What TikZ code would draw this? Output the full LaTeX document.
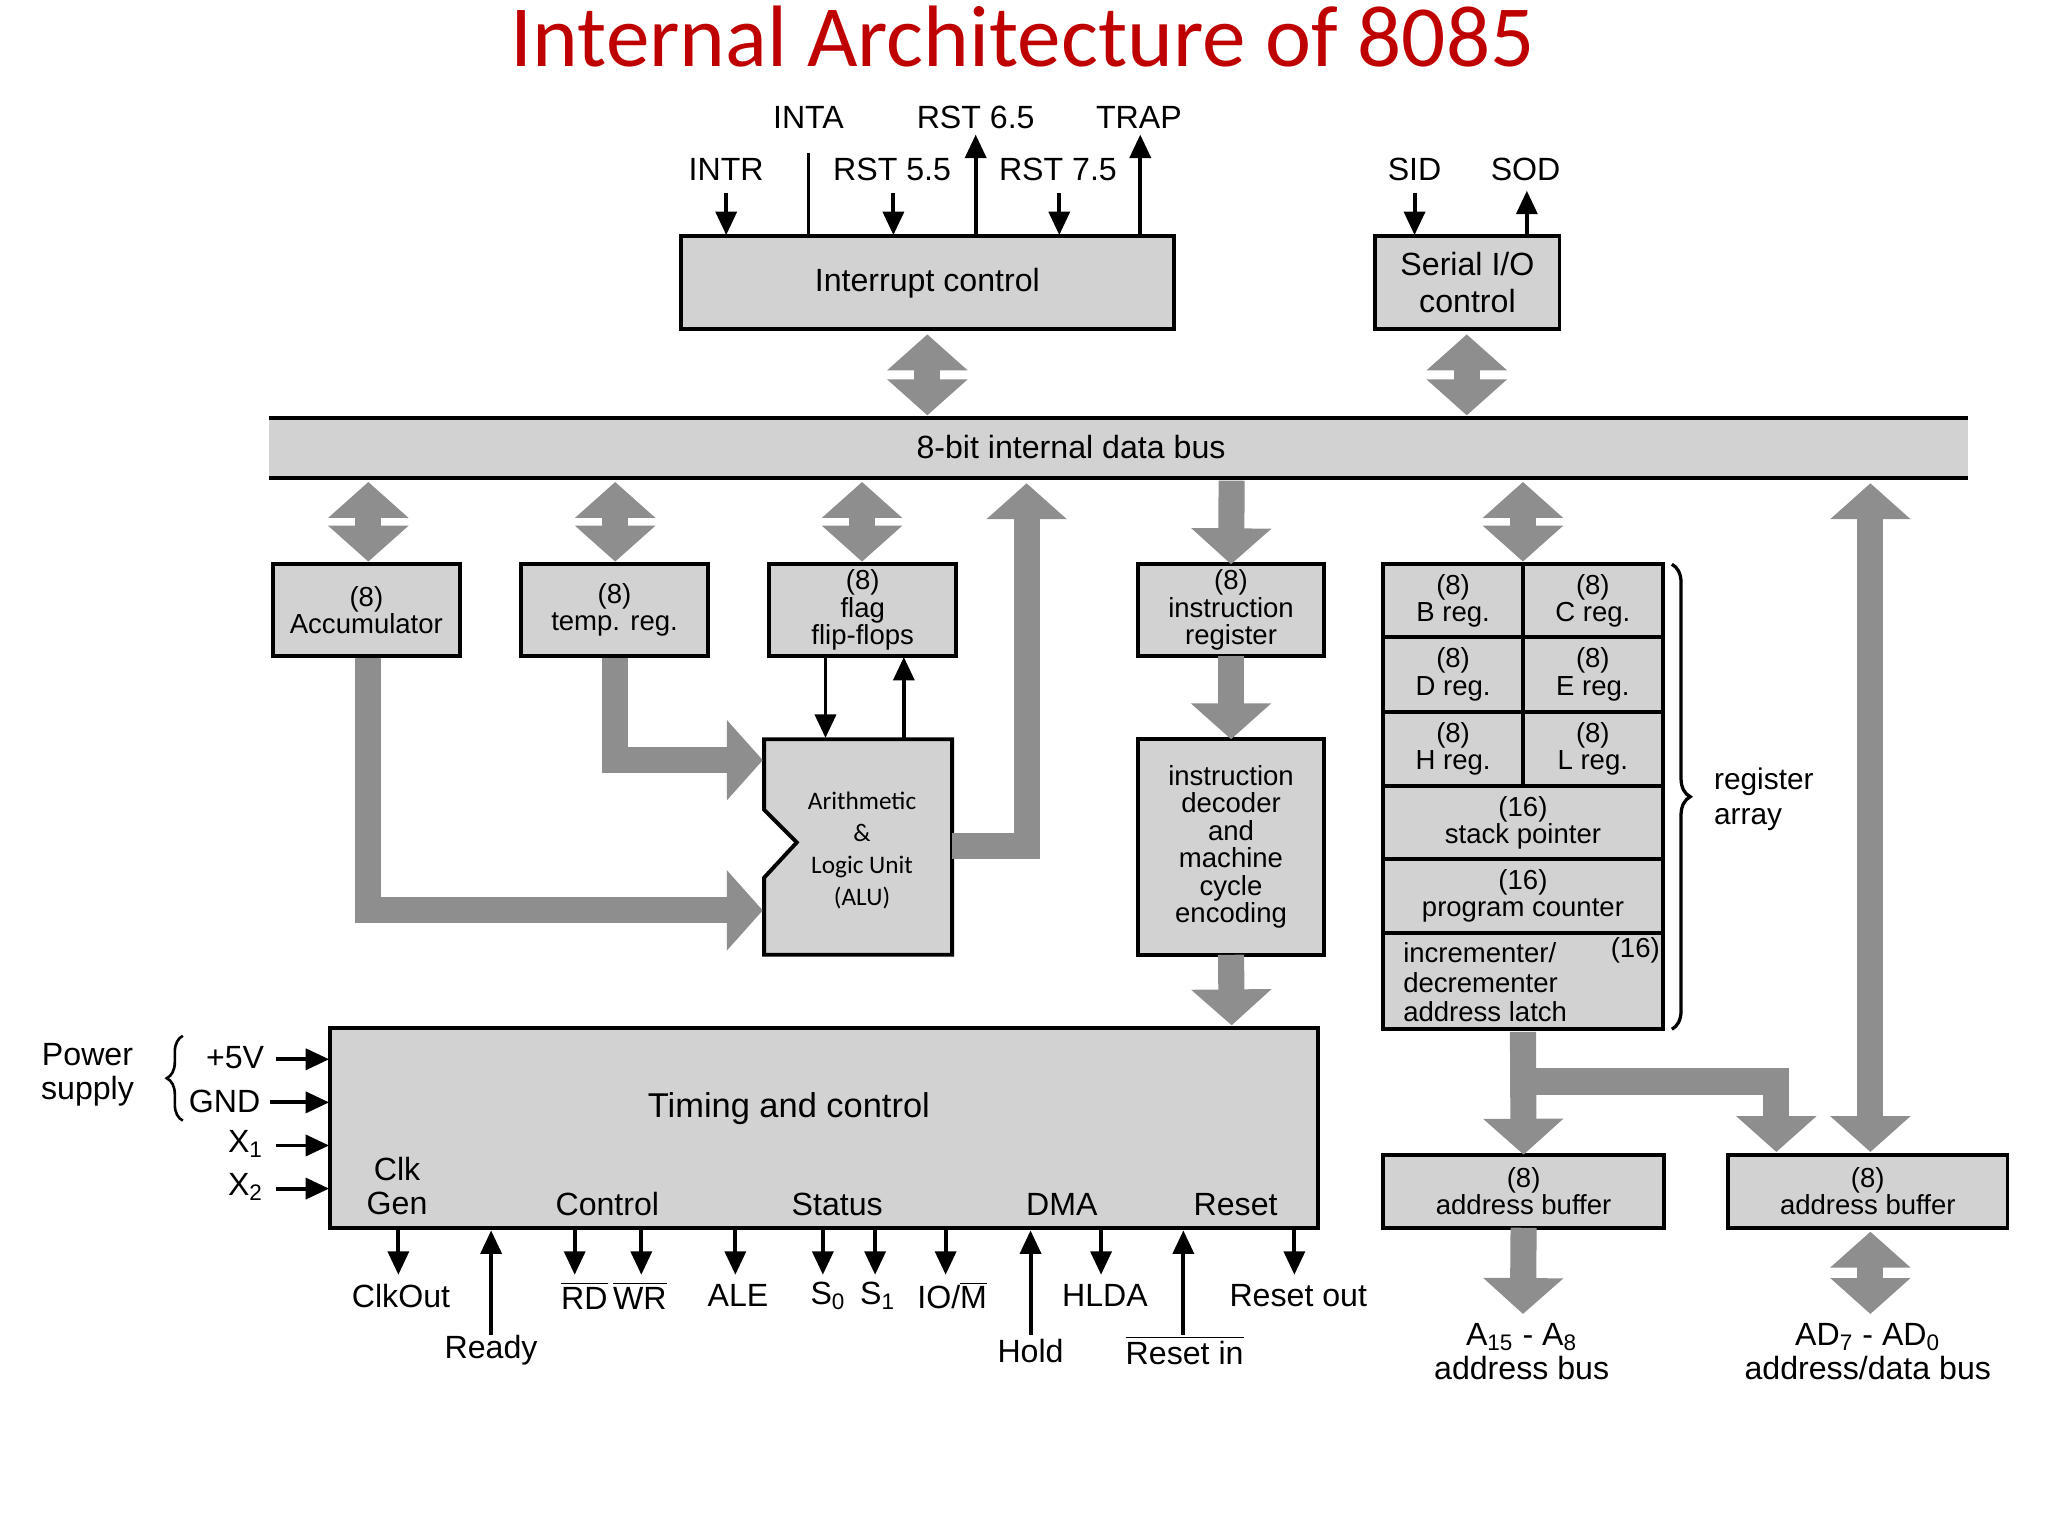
\documentclass[tikz,border=0pt]{standalone}
\usepackage{fontspec}
\setmainfont{Liberation Sans}
\newfontfamily\carl{Carlito}
\usetikzlibrary{arrows.meta,decorations.pathreplacing}
\definecolor{boxg}{HTML}{D2D2D2}
\definecolor{arrg}{HTML}{8E8E8E}
\newcommand\bx[6]{\node[box,minimum width={(#4-#2)*0.02cm},minimum height={(#5-#3)*0.02cm}] (#1) at ({(#2+#4)/2},{(#3+#5)/2}) {#6};}
\newcommand\ovl[1]{\ensuremath{\overline{\mbox{#1}}}}
\begin{document}
\begin{tikzpicture}[x=0.02cm,y=-0.02cm,
 box/.style={draw,fill=boxg,line width=0.06cm,inner sep=0pt,outer sep=0pt,align=center,font=\fontsize{12}{12}\selectfont},
 bigbox/.style={box,font=\fontsize{14}{16}\selectfont},
 fat/.style={draw=arrg,line width=0.4cm,line join=miter,-{Triangle[width=1.2cm,length=0.55cm]}},
 dfat/.style={draw=arrg,line width=0.4cm,{Triangle[width=1.2cm,length=0.55cm]}-{Triangle[width=1.2cm,length=0.55cm]}},
 thin/.style={draw,line width=0.06cm,-{Triangle[width=0.32cm,length=0.36cm]}},
 lab/.style={font=\fontsize{14}{15}\selectfont,align=center,inner sep=0pt},
 slab/.style={font=\fontsize{12}{13}\selectfont,align=center,inner sep=0pt}]
\useasboundingbox (0,0) rectangle (1568,1176);
\node[font=\carl\fontsize{38}{40}\selectfont,text=red!75!black] (title) at (783,28) {Internal Architecture of 8085};
% bus
\fill[boxg] (206,320) rectangle (1507,366);
\draw[line width=0.06cm] (206,320) -- (1507,320) (206,366) -- (1507,366);
\node[lab] (bus) at (820,342) {8-bit internal data bus};
% boxes
\node[bigbox,minimum width=7.56cm,minimum height=1.42cm] (ic) at (710,216.5) {Interrupt control};
\node[bigbox,minimum width=2.82cm,minimum height=1.42cm] (sio) at (1123.5,216.5) {Serial I/O\\control};
\bx{acc}{209}{432}{352}{502}{(8)\\Accumulator}
\bx{tmp}{399}{432}{542}{502}{(8)\\temp. reg.}
\bx{flg}{589}{432}{732}{502}{(8)\\flag\\flip-flops}
\bx{ir}{871}{432}{1014}{502}{(8)\\instruction\\register}
\bx{dec}{871}{566}{1014}{731}{instruction\\decoder\\and\\machine\\cycle\\encoding}
\bx{breg}{1059}{432}{1166}{488}{(8)\\B reg.}
\bx{creg}{1166}{432}{1273}{488}{(8)\\C reg.}
\bx{dreg}{1059}{488}{1166}{545}{(8)\\D reg.}
\bx{ereg}{1166}{488}{1273}{545}{(8)\\E reg.}
\bx{hreg}{1059}{545}{1166}{602}{(8)\\H reg.}
\bx{lreg}{1166}{545}{1273}{602}{(8)\\L reg.}
\bx{sp}{1059}{602}{1273}{658}{(16)\\stack pointer}
\bx{pc}{1059}{658}{1273}{714}{(16)\\program counter}
\bx{inc}{1059}{714}{1273}{788}{}
\node[slab,align=left] (inct) at (1074,752) [anchor=west] {incrementer/\\decrementer\\address latch};
\node[slab] (inc16) at (1252,728) {(16)};
\bx{tc}{253}{787}{1009}{940}{}
\bx{ab1}{1059}{884}{1274}{940}{(8)\\address buffer}
\bx{ab2}{1323}{884}{1537}{940}{(8)\\address buffer}
% ALU
\draw[fill=boxg,line width=0.06cm] (585,566) -- (729,566) -- (729,731) -- (585,731) -- (585,672) -- (610,645) -- (585,620) -- cycle;
\node[font=\carl\fontsize{11}{14}\selectfont,align=center] (alu) at (660,651) {Arithmetic\\\&\\Logic Unit\\(ALU)};
\coordinate (aluR) at (729,648);
% brace
\draw[line width=0.05cm,decorate,decoration={brace,amplitude=8pt}] (1280,432) -- (1280,788);
\node[lab,align=left,font=\fontsize{13}{15}\selectfont] (ra) at (1312,612) [anchor=west] {register\\array};
% fat arrows
\draw[dfat] (710,256) -- (710,318);
\draw[dfat] (1123,256) -- (1123,318);
\draw[dfat] (282,369) -- (282,430);
\draw[dfat] (471,369) -- (471,430);
\draw[dfat] (660,369) -- (660,430);
\draw[dfat] (1166,369) -- (1166,430);
\draw[fat] (943,368) -- (ir.north);
\draw[fat] (aluR) -- (786,648) -- (786,370);
\draw[dfat] (1432,370) -- (1432,882);
\draw[fat] (282,504) -- (282,697) -- (584,697);
\draw[fat] (471,504) -- (471,582) -- (584,582);
\draw[fat] (ir.south) -- (dec.north);
\draw[fat] (dec.south) -- (943,785);
\draw[fat] (1166,790) -- (ab1.north);
\draw[fat] (1166,828) -- (1360,828) -- (1360,882);
\draw[fat] (ab1.south) -- (1166,1006);
\draw[dfat] (1432,943) -- (1432,1006);
% timing labels
\node[lab,font=\fontsize{15}{16}\selectfont] (tct) at (604,849) {Timing and control};
\node[lab] (clk) at (304,908) {Clk\\Gen};
\node[lab] (ctl) at (465,922) {Control};
\node[lab] (sts) at (641,922) {Status};
\node[lab] (dma) at (813,922) {DMA};
\node[lab] (rst) at (946,922) {Reset};
% top signals
\node[lab] (inta) at (619,90) {INTA};
\node[lab] (r65) at (747,90) {RST 6.5};
\node[lab] (trap) at (872,90) {TRAP};
\node[lab] (intr) at (556,130) {INTR};
\node[lab] (r55) at (683,130) {RST 5.5};
\node[lab] (r75) at (810,130) {RST 7.5};
\node[lab] (sid) at (1083,130) {SID};
\node[lab] (sod) at (1168,130) {SOD};
\draw[thin] (556,148) -- (556,180);
\draw[line width=0.06cm] (619,117) -- (619,180);
\draw[thin] (684,148) -- (684,180);
\draw[thin] (747,180) -- (747,103);
\draw[thin] (811,148) -- (811,180);
\draw[thin] (873,180) -- (873,103);
\draw[thin] (1083,148) -- (1083,180);
\draw[thin] (1169,180) -- (1169,146);
% flag-alu
\draw[thin] (632,503) -- (632,565);
\draw[thin] (692,565) -- (692,503);
% power
\node[lab] (pw) at (67,823) {Power\\supply};
\draw[line width=0.04cm,decorate,decoration={brace,amplitude=7pt}] (140,858) -- (140,793);
\node[lab] (p5) at (180,810) {+5V};
\node[lab] (gnd) at (172,843) {GND};
\node[lab] (x1) at (188,876) {X\textsubscript{1}};
\node[lab] (x2) at (188,909) {X\textsubscript{2}};
\draw[thin] (211,811) -- (252,811);
\draw[thin] (207,844) -- (252,844);
\draw[thin] (211,877) -- (252,877);
\draw[thin] (211,910) -- (252,910);
% bottom signals
\draw[thin] (305,941) -- (305,976); \node[lab] (co) at (307,992) {ClkOut};
\draw[thin] (376,1022) -- (376,942); \node[lab] (rdy) at (376,1034) {Ready};
\draw[thin] (440,941) -- (440,976); \draw[thin] (491,941) -- (491,976);
\node[lab] (rdwr) at (470,992) {\ovl{RD}\,\ovl{WR}};
\draw[thin] (563,941) -- (563,976); \node[lab] (ale) at (565,992) {ALE};
\draw[thin] (630,941) -- (630,976); \node[lab] (s0) at (634,992) {S\textsubscript{0}};
\draw[thin] (670,941) -- (670,976); \node[lab] (s1) at (672,992) {S\textsubscript{1}};
\draw[thin] (724,941) -- (724,976); \node[lab] (iom) at (729,992) {IO/\ovl{M}};
\draw[thin] (789,1022) -- (789,942); \node[lab] (hold) at (789,1034) {Hold};
\draw[thin] (843,941) -- (843,976); \node[lab] (hlda) at (846,992) {HLDA};
\draw[thin] (906,1022) -- (906,942); \node[lab] (rin) at (907,1034) {\ovl{Reset in}};
\draw[thin] (991,941) -- (991,976); \node[lab] (rout) at (994,992) {Reset out};
% bus outputs
\node[lab] (ahb) at (1165,1035) {A\textsubscript{15} - A\textsubscript{8}\\address bus};
\node[lab] (adb) at (1430,1035) {AD\textsubscript{7} - AD\textsubscript{0}\\address/data bus};
\end{tikzpicture}
\end{document}
